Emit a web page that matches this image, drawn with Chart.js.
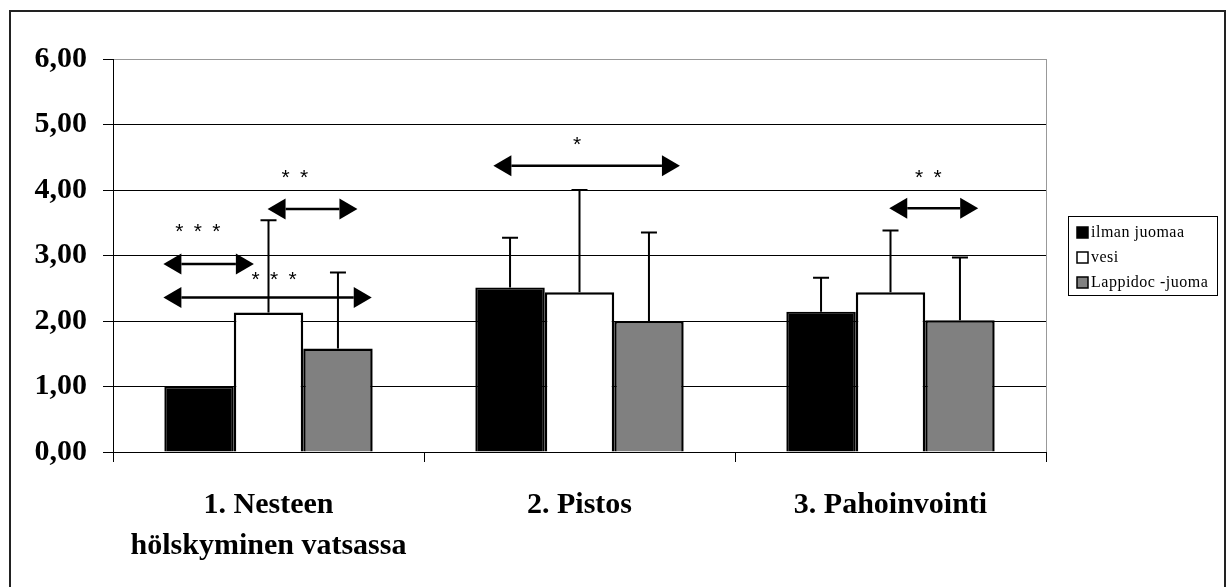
<!DOCTYPE html>
<html>
<head>
<meta charset="utf-8">
<script src="https://cdn.jsdelivr.net/npm/chart.js@4/dist/chart.umd.min.js"></script>
<style>
  html, body { margin: 0; padding: 0; background: #ffffff; }
  #wrap { width: 1232px; height: 587px; position: relative; }
</style>
</head>
<body>
<div id="wrap"><canvas id="chart"></canvas></div>
<script>
// Kategoriat ja arvot
const categories = [['1. Nesteen', 'hölskyminen vatsassa'], ['2. Pistos'], ['3. Pahoinvointi']];
const seriesNames = ['ilman juomaa', 'vesi', 'Lappidoc -juoma'];
const ilmanJuomaa = [1.00, 2.51, 2.14];
const vesi = [2.13, 2.44, 2.44];
const lappidoc = [1.58, 2.00, 2.01];
// Keskihajonnat (vain ylöspäin)
const ilmanJuomaaErr = [0, 0.76, 0.52];
const vesiErr = [1.41, 1.56, 0.94];
const lappidocErr = [1.16, 1.35, 0.96];
const yTickLabels = ['0,00', '1,00', '2,00', '3,00', '4,00', '5,00', '6,00'];

const errors = [ilmanJuomaaErr, vesiErr, lappidocErr];

// Merkitsevyysnuolet: kategoria, alku- ja loppukohta (kategorian sisällä), korkeus
const arrows = [
    { cat: 0, from: -0.338, to: -0.047, y: 2.87 },
    { cat: 0, from: -0.338, to: 0.332, y: 2.36 },
    { cat: 0, from: -0.003, to: 0.286, y: 3.71 },
    { cat: 1, from: -0.277, to: 0.323, y: 4.37 },
    { cat: 2, from: -0.004, to: 0.282, y: 3.72 }
];
const stars = [
    { cat: 0, dx: -0.227, y: 3.40, n: 3 },
    { cat: 0, dx: 0.018, y: 2.67, n: 3 },
    { cat: 0, dx: 0.085, y: 4.23, n: 2 },
    { cat: 1, dx: -0.008, y: 4.73, n: 1 },
    { cat: 2, dx: 0.122, y: 4.23, n: 2 }
];

// Ulkoreunus ja piirtoalueen harmaa oikea reuna
const framePlugin = {
    id: 'frame',
    beforeDraw(chart) {
        const c = chart.ctx;
        c.save();
        c.strokeStyle = '#222222';
        c.lineWidth = 2;
        c.strokeRect(10, 11, 1215, 600);
        c.restore();
    },
    beforeDatasetsDraw(chart) {
        const a = chart.chartArea;
        const c = chart.ctx;
        c.save();
        c.strokeStyle = '#999999';
        c.lineWidth = 1;
        c.beginPath();
        c.moveTo(a.right + 0.5, a.top);
        c.lineTo(a.right + 0.5, a.bottom);
        c.stroke();
        c.restore();
    }
};

// Virhepalkit
const errorBarPlugin = {
    id: 'errorBars',
    afterDatasetsDraw(chart) {
        const c = chart.ctx;
        const y = chart.scales.y;
        c.save();
        c.strokeStyle = '#000000';
        c.lineWidth = 2;
        chart.data.datasets.forEach(function(ds, di) {
            const meta = chart.getDatasetMeta(di);
            meta.data.forEach(function(bar, i) {
                const e = errors[di][i];
                if (!e) return;
                const top = y.getPixelForValue(ds.data[i] + e);
                c.beginPath();
                c.moveTo(bar.x, bar.y);
                c.lineTo(bar.x, top);
                c.moveTo(bar.x - 8, top);
                c.lineTo(bar.x + 8, top);
                c.stroke();
            });
        });
        c.restore();
    }
};

// Nuolet, tähdet ja selite
const annotationPlugin = {
    id: 'annotations',
    afterDraw(chart) {
        const c = chart.ctx;
        const x = chart.scales.x;
        const y = chart.scales.y;
        c.save();
        c.fillStyle = '#000000';
        c.strokeStyle = '#000000';
        arrows.forEach(function(a) {
            const x1 = x.getPixelForValue(a.cat + a.from);
            const x2 = x.getPixelForValue(a.cat + a.to);
            const yy = y.getPixelForValue(a.y);
            const head = 18, half = 10.5;
            c.lineWidth = 2.5;
            c.beginPath();
            c.moveTo(x1 + head, yy);
            c.lineTo(x2 - head, yy);
            c.stroke();
            c.beginPath();
            c.moveTo(x1, yy);
            c.lineTo(x1 + head, yy - half);
            c.lineTo(x1 + head, yy + half);
            c.closePath();
            c.fill();
            c.beginPath();
            c.moveTo(x2, yy);
            c.lineTo(x2 - head, yy - half);
            c.lineTo(x2 - head, yy + half);
            c.closePath();
            c.fill();
        });
        c.font = '21px "Liberation Sans"';
        c.textAlign = 'center';
        c.textBaseline = 'middle';
        stars.forEach(function(s) {
            const cx = x.getPixelForValue(s.cat + s.dx);
            const cy = y.getPixelForValue(s.y) + 3;
            for (let k = 0; k < s.n; k++) {
                c.fillText('*', cx + (k - (s.n - 1) / 2) * 18.5, cy);
            }
        });

        // Selite
        c.lineWidth = 1;
        c.strokeStyle = '#000000';
        c.strokeRect(1068.5, 216.5, 149, 79);
        c.font = '16px "Liberation Serif"';
        c.textAlign = 'left';
        c.textBaseline = 'middle';
        c.letterSpacing = '0.5px';
        chart.data.datasets.forEach(function(ds, i) {
            const ry = 233 + i * 25;
            c.fillStyle = ds.backgroundColor;
            c.fillRect(1077, ry - 6, 11, 11);
            c.lineWidth = 1.5;
            c.strokeRect(1077, ry - 6, 11, 11);
            c.fillStyle = '#000000';
            c.fillText(ds.label, 1091, ry);
        });
        c.restore();
    }
};

Chart.defaults.font.family = '"Liberation Serif", "Times New Roman", serif';
Chart.defaults.color = '#000000';

new Chart(document.getElementById('chart').getContext('2d'), {
    type: 'bar',
    data: {
        labels: categories,
        datasets: [{
            label: seriesNames[0],
            data: ilmanJuomaa,
            backgroundColor: '#000000',
            borderColor: '#000000',
            borderWidth: 2
        }, {
            label: seriesNames[1],
            data: vesi,
            backgroundColor: '#ffffff',
            borderColor: '#000000',
            borderWidth: 2.5
        }, {
            label: seriesNames[2],
            data: lappidoc,
            backgroundColor: '#808080',
            borderColor: '#000000',
            borderWidth: 2.5
        }]
    },
    options: {
        responsive: true,
        maintainAspectRatio: false,
        animation: false,
        categoryPercentage: 0.67,
        barPercentage: 1.0,
        layout: {
            padding: { left: 0, top: 59, right: 186, bottom: 0 }
        },
        plugins: {
            legend: { display: false },
            tooltip: { enabled: false }
        },
        scales: {
            x: {
                afterFit(scale) { scale.height = 135; },
                grid: {
                    offset: true,
                    drawOnChartArea: false,
                    tickLength: 10,
                    tickColor: '#000000'
                },
                border: { color: '#000000', width: 1 },
                ticks: {
                    padding: 23,
                    maxRotation: 0,
                    autoSkip: false,
                    font: { size: 30, weight: 'bold', lineHeight: 41 / 30 }
                }
            },
            y: {
                min: 0,
                max: 6,
                afterFit(scale) { scale.width = 113; },
                grid: {
                    color: function(ctx) { return ctx.tick && ctx.tick.value === 6 ? '#999999' : '#000000'; },
                    tickColor: '#000000',
                    tickLength: 10
                },
                border: { color: '#000000', width: 1 },
                ticks: {
                    stepSize: 1,
                    padding: 16,
                    font: { size: 30, weight: 'bold' },
                    callback: function(v, i) { return yTickLabels[i]; }
                }
            }
        }
    },
    plugins: [framePlugin, errorBarPlugin, annotationPlugin]
});
</script>
</body>
</html>
